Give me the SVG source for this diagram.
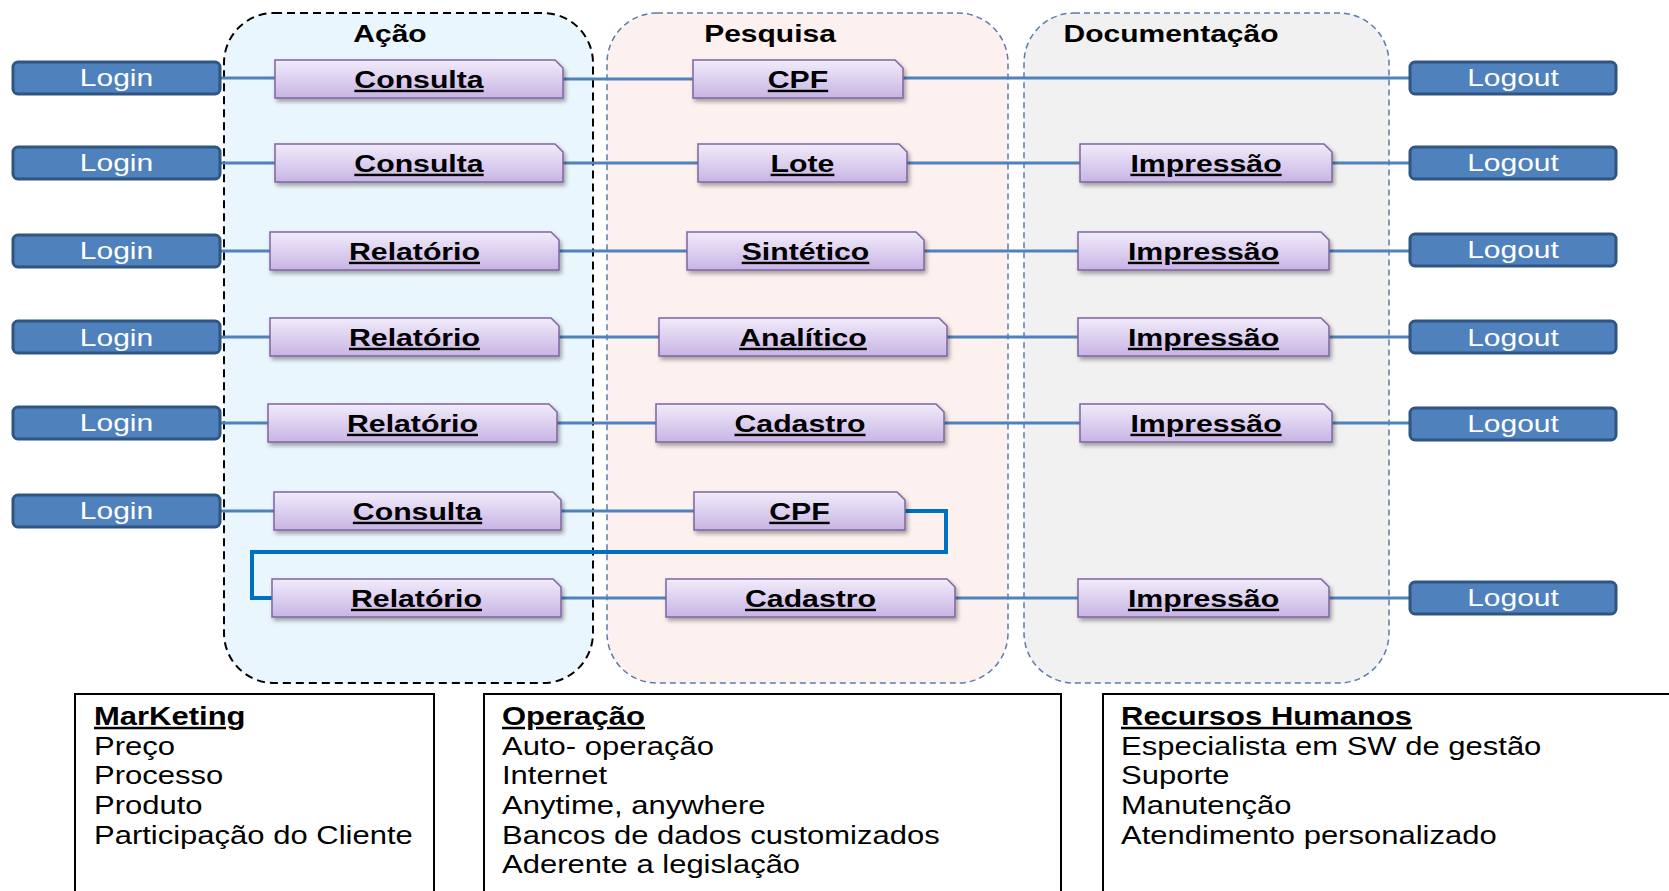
<svg xmlns="http://www.w3.org/2000/svg" width="1669" height="891" viewBox="0 0 1669 891">
<style>
.cont{stroke-dasharray:6 4}
.lg{fill:#4f81bd;stroke:#2f5582;stroke-width:3}
.lt{font-family:"Liberation Sans",Arial,sans-serif;font-size:24px;fill:#fff;text-anchor:middle}
.pn{fill:url(#pg);stroke:#8064a2;stroke-width:1.5;filter:url(#sh)}
.nt{font-family:"Liberation Sans",Arial,sans-serif;font-size:24px;font-weight:bold;fill:#000;text-anchor:middle;text-decoration:underline}
.ti{font-family:"Liberation Sans",Arial,sans-serif;font-size:24px;font-weight:bold;fill:#000;text-anchor:middle}
.cn{stroke:#4f81bd;stroke-width:3;fill:none}
.bx{fill:#fff;stroke:#000;stroke-width:2}
.bt{font-family:"Liberation Sans",Arial,sans-serif;font-size:25px;fill:#000}
.bh{font-weight:bold;text-decoration:underline}
</style>
<defs>
<linearGradient id="pg" x1="0" y1="0" x2="0" y2="1">
<stop offset="0" stop-color="#f1ecfa"/>
<stop offset="1" stop-color="#c8b4e4"/>
</linearGradient>
<filter id="sh" x="-5%" y="-20%" width="115%" height="150%">
<feDropShadow dx="2" dy="3" stdDeviation="2" flood-color="#000" flood-opacity="0.35"/>
</filter>
</defs>
<rect width="1669" height="891" fill="#fff"/>

<g id="containers">
<g id="acao"><rect x="224" y="13" width="369" height="670" rx="50" fill="#eaf6fd" stroke="#000" stroke-width="2" stroke-dasharray="8 5"/>
<text class="ti" x="390" y="42" transform="translate(390,0) scale(1.25,1) translate(-390,0)">Ação</text></g>
<g id="pesquisa"><rect x="607" y="13" width="401" height="670" rx="50" fill="#fdf1ef" stroke="#5b7bab" stroke-width="1.5" stroke-dasharray="6 4"/>
<text class="ti" x="770" y="42" transform="translate(770,0) scale(1.25,1) translate(-770,0)">Pesquisa</text></g>
<g id="documentacao"><rect x="1024" y="13" width="365" height="670" rx="50" fill="#f1f1f1" stroke="#5b7bab" stroke-width="1.5" stroke-dasharray="6 4"/>
<text class="ti" x="1171" y="42" transform="translate(1171,0) scale(1.25,1) translate(-1171,0)">Documentação</text></g>
</g>

<g id="connectors">
<path class="cn" d="M220 78H275M563 79H693M903 78H1410"/>
<path class="cn" d="M220 163H275M563 163H698M907 163H1080M1332 163H1410"/>
<path class="cn" d="M220 251H270M559 251H687M924 251H1078M1329 251H1410"/>
<path class="cn" d="M220 337H270M559 337H659M947 337H1078M1329 337H1410"/>
<path class="cn" d="M220 423H268M557 423H656M944 423H1080M1332 423H1410"/>
<path class="cn" d="M220 511H274M561 511H694"/>
<path d="M905 511H946V552H252V598H272" fill="none" stroke="#0070c0" stroke-width="4"/>
<path class="cn" d="M561 598H666M955 598H1078M1329 598H1410"/>
</g>

<g id="logins">
<g id="login1"><rect class="lg" x="13" y="62" width="207" height="32" rx="5"/><text class="lt" transform="translate(116.5,86) scale(1.25,1)">Login</text></g>
<g id="login2"><rect class="lg" x="13" y="147" width="207" height="32" rx="5"/><text class="lt" transform="translate(116.5,171) scale(1.25,1)">Login</text></g>
<g id="login3"><rect class="lg" x="13" y="235" width="207" height="32" rx="5"/><text class="lt" transform="translate(116.5,259) scale(1.25,1)">Login</text></g>
<g id="login4"><rect class="lg" x="13" y="321" width="207" height="32" rx="5"/><text class="lt" transform="translate(116.5,346) scale(1.25,1)">Login</text></g>
<g id="login5"><rect class="lg" x="13" y="407" width="207" height="32" rx="5"/><text class="lt" transform="translate(116.5,431) scale(1.25,1)">Login</text></g>
<g id="login6"><rect class="lg" x="13" y="495" width="207" height="32" rx="5"/><text class="lt" transform="translate(116.5,519) scale(1.25,1)">Login</text></g>
</g>

<g id="logouts">
<g id="logout1"><rect class="lg" x="1410" y="62" width="206" height="32" rx="5"/><text class="lt" transform="translate(1513,86) scale(1.25,1)">Logout</text></g>
<g id="logout2"><rect class="lg" x="1410" y="147" width="206" height="32" rx="5"/><text class="lt" transform="translate(1513,171) scale(1.25,1)">Logout</text></g>
<g id="logout3"><rect class="lg" x="1410" y="234" width="206" height="32" rx="5"/><text class="lt" transform="translate(1513,258) scale(1.25,1)">Logout</text></g>
<g id="logout4"><rect class="lg" x="1410" y="321" width="206" height="32" rx="5"/><text class="lt" transform="translate(1513,346) scale(1.25,1)">Logout</text></g>
<g id="logout5"><rect class="lg" x="1410" y="408" width="206" height="32" rx="5"/><text class="lt" transform="translate(1513,432) scale(1.25,1)">Logout</text></g>
<g id="logout7"><rect class="lg" x="1410" y="582" width="206" height="32" rx="5"/><text class="lt" transform="translate(1513,606) scale(1.25,1)">Logout</text></g>
</g>

<g id="nodes">
<g id="r1consulta"><path class="pn" d="M275 60H555L563 68V98H275Z"/><text class="nt" transform="translate(419,88) scale(1.26,1)">Consulta</text></g>
<g id="r1cpf"><path class="pn" d="M693 60H895L903 68V98H693Z"/><text class="nt" transform="translate(798,88) scale(1.26,1)">CPF</text></g>

<g id="r2consulta"><path class="pn" d="M275 144H555L563 152V182H275Z"/><text class="nt" transform="translate(419,172) scale(1.26,1)">Consulta</text></g>
<g id="r2lote"><path class="pn" d="M698 144H899L907 152V182H698Z"/><text class="nt" transform="translate(802.5,172) scale(1.26,1)">Lote</text></g>
<g id="r2impressao"><path class="pn" d="M1080 144H1324L1332 152V182H1080Z"/><text class="nt" transform="translate(1206,172) scale(1.26,1)">Impressão</text></g>

<g id="r3relatorio"><path class="pn" d="M270 232H551L559 240V270H270Z"/><text class="nt" transform="translate(414.5,260) scale(1.26,1)">Relatório</text></g>
<g id="r3sintetico"><path class="pn" d="M687 232H916L924 240V270H687Z"/><text class="nt" transform="translate(805.5,260) scale(1.26,1)">Sintético</text></g>
<g id="r3impressao"><path class="pn" d="M1078 232H1321L1329 240V270H1078Z"/><text class="nt" transform="translate(1203.5,260) scale(1.26,1)">Impressão</text></g>

<g id="r4relatorio"><path class="pn" d="M270 318H551L559 326V356H270Z"/><text class="nt" transform="translate(414.5,346) scale(1.26,1)">Relatório</text></g>
<g id="r4analitico"><path class="pn" d="M659 318H939L947 326V356H659Z"/><text class="nt" transform="translate(803,346) scale(1.26,1)">Analítico</text></g>
<g id="r4impressao"><path class="pn" d="M1078 318H1321L1329 326V356H1078Z"/><text class="nt" transform="translate(1203.5,346) scale(1.26,1)">Impressão</text></g>

<g id="r5relatorio"><path class="pn" d="M268 404H549L557 412V442H268Z"/><text class="nt" transform="translate(412.5,432) scale(1.26,1)">Relatório</text></g>
<g id="r5cadastro"><path class="pn" d="M656 404H936L944 412V442H656Z"/><text class="nt" transform="translate(800,432) scale(1.26,1)">Cadastro</text></g>
<g id="r5impressao"><path class="pn" d="M1080 404H1324L1332 412V442H1080Z"/><text class="nt" transform="translate(1206,432) scale(1.26,1)">Impressão</text></g>

<g id="r6consulta"><path class="pn" d="M274 492H553L561 500V530H274Z"/><text class="nt" transform="translate(417.5,520) scale(1.26,1)">Consulta</text></g>
<g id="r6cpf"><path class="pn" d="M694 492H897L905 500V530H694Z"/><text class="nt" transform="translate(799.5,520) scale(1.26,1)">CPF</text></g>

<g id="r7relatorio"><path class="pn" d="M272 579H553L561 587V617H272Z"/><text class="nt" transform="translate(416.5,607) scale(1.26,1)">Relatório</text></g>
<g id="r7cadastro"><path class="pn" d="M666 579H947L955 587V617H666Z"/><text class="nt" transform="translate(810.5,607) scale(1.26,1)">Cadastro</text></g>
<g id="r7impressao"><path class="pn" d="M1078 579H1321L1329 587V617H1078Z"/><text class="nt" transform="translate(1203.5,607) scale(1.26,1)">Impressão</text></g>
</g>

<g id="marketing">
<rect class="bx" x="75" y="694" width="359" height="210"/>
<g transform="translate(94,725) scale(1.24,1)">
<text class="bt bh" x="0" y="0">MarKeting</text>
<text class="bt" x="0" y="30">Preço</text>
<text class="bt" x="0" y="59">Processo</text>
<text class="bt" x="0" y="89">Produto</text>
<text class="bt" x="0" y="119">Participação do Cliente</text>
</g>
</g>
<g id="operacao">
<rect class="bx" x="484" y="694" width="577" height="210"/>
<g transform="translate(502,725) scale(1.24,1)">
<text class="bt bh" x="0" y="0">Operação</text>
<text class="bt" x="0" y="30">Auto- operação</text>
<text class="bt" x="0" y="59">Internet</text>
<text class="bt" x="0" y="89">Anytime, anywhere</text>
<text class="bt" x="0" y="119">Bancos de dados customizados</text>
<text class="bt" x="0" y="148">Aderente a legislação</text>
</g>
</g>
<g id="rh">
<rect class="bx" x="1103" y="694" width="580" height="210"/>
<g transform="translate(1121,725) scale(1.24,1)">
<text class="bt bh" x="0" y="0">Recursos Humanos</text>
<text class="bt" x="0" y="30">Especialista em SW de gestão</text>
<text class="bt" x="0" y="59">Suporte</text>
<text class="bt" x="0" y="89">Manutenção</text>
<text class="bt" x="0" y="119">Atendimento personalizado</text>
</g>
</g>
</svg>
